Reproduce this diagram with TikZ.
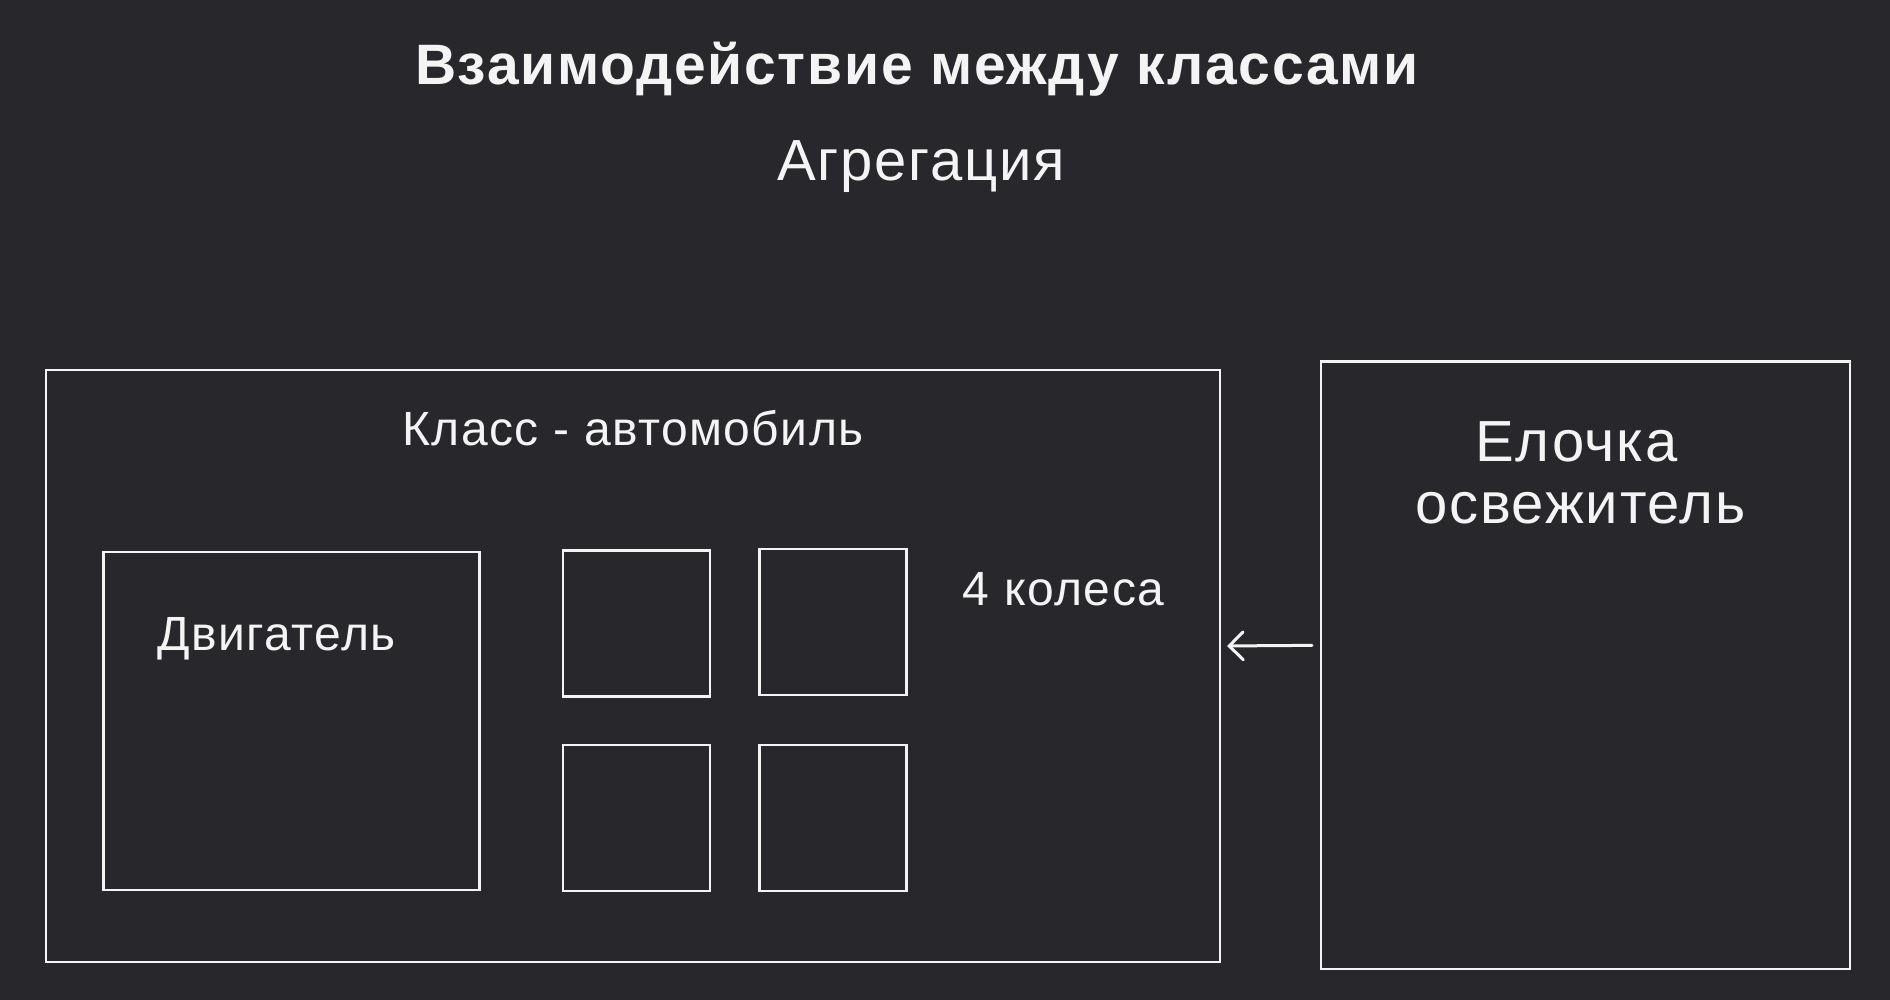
\documentclass[tikz,border=0pt]{standalone}
\usepackage{fontspec}
\setmainfont[LetterSpace=3]{Liberation Sans}
\usepackage{xcolor}
\usetikzlibrary{arrows.meta, positioning, calc}
\definecolor{bgdark}{HTML}{28272C}
\definecolor{linewhite}{HTML}{F4F4F4}
\tikzstyle{classbox} = [rectangle, draw=linewhite, line width=2.2pt, inner sep=0pt]
\tikzstyle{wheelbox} = [classbox, minimum width=147pt, minimum height=146pt]
\tikzstyle{bigtext} = [text=linewhite, font=\fontsize{58}{68}\selectfont, anchor=base, inner sep=0pt]
\tikzstyle{smalltext} = [text=linewhite, font=\fontsize{48}{57}\selectfont, anchor=base, inner sep=0pt]
\tikzstyle{arrow} = [draw=linewhite, line width=3pt, line cap=round, -{Straight Barb[length=14pt, width=28pt, line cap=round]}]

\begin{document}
\begin{tikzpicture}[x=1pt, y=-1pt]
\fill[bgdark] (0,0) rectangle (1890,1000);
\useasboundingbox (0,0) rectangle (1890,1000);

% Headings
\node (title) [bigtext, font=\fontsize{57}{66}\selectfont\bfseries] at (917,85) {Взаимодействие между классами};
\node (subtitle) [bigtext] at (921,181) {Агрегация};

% Car class
\node (carbox) [classbox, minimum width=1174pt, minimum height=592pt] at (633,666) {};
\node (cartitle) [smalltext] at ($(carbox.north)+(0,77)$) {Класс - автомобиль};

\node (engine) [classbox, minimum width=376pt, minimum height=338pt] at (291.5,720.8) {};
\node (enginetext) [smalltext] at ($(engine.north)+(-15,100)$) {Двигатель};

% Wheels
\foreach \i/\x/\y in {1/636.5/623.5, 2/833/622, 3/636.5/818, 4/833/818}
  \node (wheel\i) [wheelbox] at (\x,\y) {};
\node (wheelstext) [smalltext] at ($(wheel2.north east)+(156,58)$) {4 колеса};

% Air freshener
\node (freshener) [classbox, minimum width=529pt, minimum height=607.5pt] at (1585.5,665.3) {};
\node (freshtop) [bigtext] at ($(freshener.north)+(-9,101.5)$) {Елочка};
\node (freshbottom) [bigtext] at ($(freshener.north)+(-5,163.4)$) {освежитель};

% Connection
\draw [arrow, shorten <=8pt, shorten >=6pt] ([yshift=20pt]freshener.west) -- ([yshift=20pt]carbox.east);

\end{tikzpicture}
\end{document}
